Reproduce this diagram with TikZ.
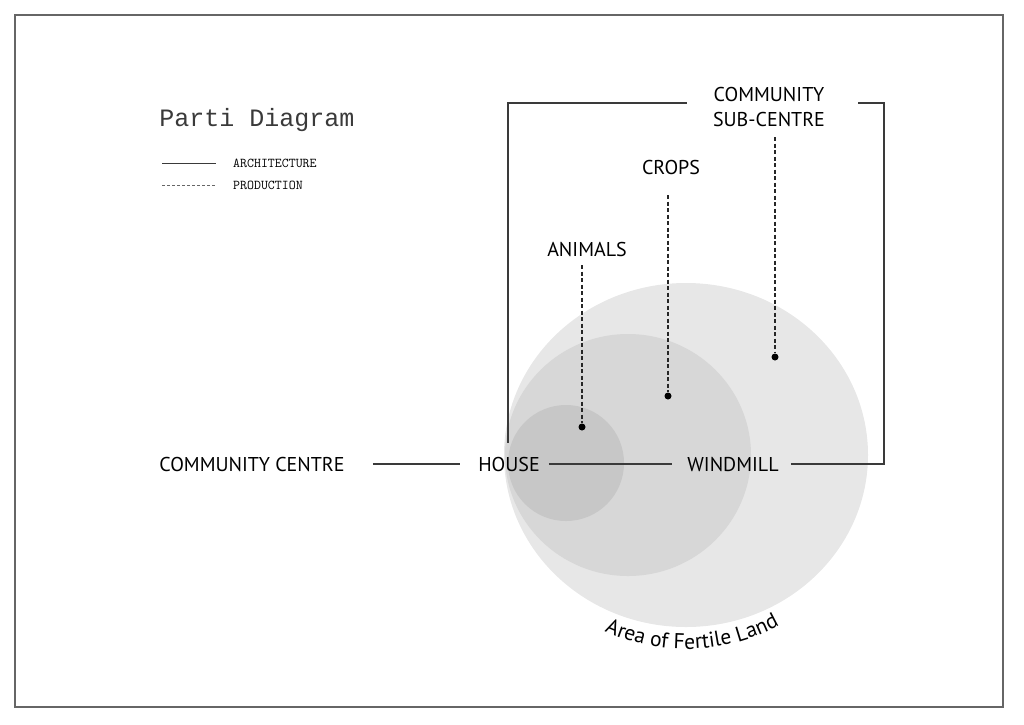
\documentclass[tikz,border=0pt]{standalone}
\usepackage{fontspec}
\usetikzlibrary{positioning,decorations.text}
\newfontfamily\labelfont{PT Sans}
\newfontfamily\titlefont{Liberation Mono}
\definecolor{ink}{HTML}{3A3A3A}
\definecolor{land}{HTML}{E7E7E7}
\definecolor{crop}{HTML}{D7D7D7}
\definecolor{herd}{HTML}{C7C7C7}

\begin{document}
\begin{tikzpicture}[
  x=1pt, y=-1pt,
  lbl/.style={font=\labelfont\fontsize{20}{23}\selectfont, align=center, inner sep=0pt, text=black},
  legend/.style={font=\ttfamily\fontsize{13.5}{15}\selectfont, anchor=west, inner sep=0pt, text=black},
  arch/.style={draw=ink, line width=1.1pt},
  prod/.style={draw=black!85, line width=1.3pt, dash pattern=on 4pt off 2.5pt},
  spot/.style={circle, fill=black, inner sep=0pt, minimum size=7pt}
]
\useasboundingbox (0,0) rectangle (1024,724);
\draw[black!60, line width=1.6pt] (15,15) rectangle (1003,707);

\fill[land] (686,455) ellipse [x radius=182pt, y radius=172pt];
\fill[crop] (628,455) ellipse [x radius=123pt, y radius=121pt];
\fill[herd] (566,463) circle [radius=58pt];
\coordinate (fertile) at (686,455);

\node[font=\titlefont\fontsize{25}{28}\selectfont, inner sep=0pt, text=ink] (title) at (257,120) {Parti Diagram};
\coordinate (la) at (162,163);
\coordinate (lb) at (162,185);
\node[legend] (archtxt) at (233,163) {ARCHITECTURE};
\node[legend] (prodtxt) at (233,185) {PRODUCTION};
\draw[arch, line width=0.8pt] (la) -- ++(54,0);
\draw[prod, line width=0.8pt, draw=black!60, dash pattern=on 3pt off 2pt] (lb) -- ++(54,0);

\node[lbl] (centre) at (252,464) {COMMUNITY CENTRE};
\node[lbl] (house) at (509,464) {HOUSE};
\node[lbl] (windmill) at (733,464) {WINDMILL};
\node[lbl] (animals) at (587,249) {ANIMALS};
\node[lbl] (crops) at (671,167) {CROPS};
\node[lbl, font=\labelfont\fontsize{20}{25}\selectfont] (sub) at (769,107) {COMMUNITY\\SUB-CENTRE};

\node[spot] (animaldot) at (582,427) {};
\node[spot] (cropdot) at (668,396) {};
\node[spot] (subdot) at (775,357) {};

\coordinate (ne) at (884,103);
\coordinate (nw) at (508,103);
\coordinate (hs) at (508,443);

\draw[arch] ([xshift=28pt]centre.east) -- ([xshift=-18pt]house.west);
\draw[arch] ([xshift=9pt]house.east) -- ([xshift=-15pt]windmill.west);
\draw[arch] ([xshift=12pt]windmill.east) -| (ne) -- ([xshift=33pt]sub.east |- ne);
\draw[arch] ([xshift=-26pt]sub.west |- nw) -- (nw) -- (hs);

\draw[prod] (animaldot |- 265,265) -- (animaldot);
\draw[prod] (cropdot |- 195,195) -- (cropdot);
\draw[prod] (subdot |- 137,137) -- (subdot);

\path[decorate, decoration={text along path, text align=center,
  text={|\labelfont\fontsize{21.5}{24}\selectfont|Area of Fertile Land}}]
  (fertile) ++(240:194pt) arc[start angle=240, end angle=304, radius=194pt];
\end{tikzpicture}
\end{document}
